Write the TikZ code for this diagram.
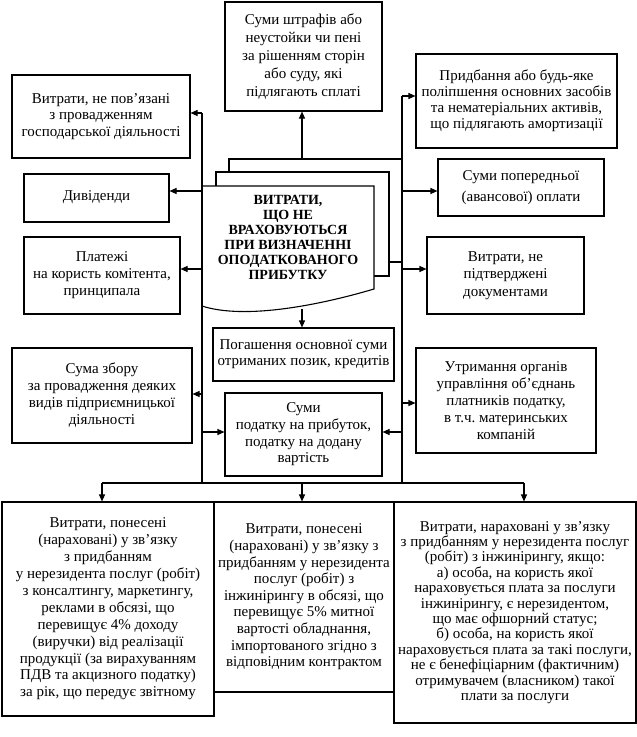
\documentclass[tikz,border=0pt]{standalone}
\usepackage{fontspec}
\setmainfont{Liberation Serif}
\usetikzlibrary{arrows.meta}
\frenchspacing
\begin{document}
\begin{tikzpicture}[x=1pt,y=-1pt,
  box/.style={draw, line width=1.1pt, align=center, inner sep=0pt, fill=white},
  arr/.style={line width=1.1pt, -{Triangle[length=7pt,width=6pt]}},
  ln/.style={line width=1.1pt},
  fs/.style={font=\fontsize{15}{#1}\selectfont}]
\fill[white] (0,0) rectangle (637,737);
\useasboundingbox (0,0) rectangle (637,737);

% coordinates of the bus lines
\coordinate (Lt) at (202,113);
\coordinate (Lb) at (202,483);
\coordinate (Rt) at (402,96);
\coordinate (Rb) at (402,483);
\coordinate (bL) at (102,483);
\coordinate (bM) at (302,483);
\coordinate (bR) at (524,483);
\coordinate (mt) at (302,159);
\coordinate (mb) at (302,309);

% boxes
\node[box, fs=18, minimum width=157pt, minimum height=109pt] (t) at (303.5,56.5)
 {Суми штрафів або\\неустойки чи пені\\за рішенням сторін\\або суду, які\\підлягають сплаті};
\node[box, fs=16.5, minimum width=178pt, minimum height=83pt] (l1) at (101,116.5)
 {Витрати, не пов’язані\\з провадженням\\господарської діяльності};
\node[box, fs=16, minimum width=201pt, minimum height=94pt] (r1) at (516.5,101)
 {Придбання або будь-яке\\поліпшення основних засобів\\та нематеріальних активів,\\що підлягають амортизації};
\node[box, fs=17, minimum width=145pt, minimum height=48pt] (l2) at (96.5,198)
 {\raisebox{4pt}{Дивіденди}};
\node[box, fs=21, minimum width=166pt, minimum height=57pt] (r2) at (521,187.5)
 {Суми попередньої\\(авансової) оплати};
\node[box, fs=17, minimum width=156pt, minimum height=77pt] (l3) at (102,275.5)
 {Платежі\\на користь комітента,\\принципала};
\node[box, fs=17.5, minimum width=157pt, minimum height=77pt] (r3) at (505.5,275.5)
 {Витрати, не\\підтверджені\\документами};
\node[box, fs=16, minimum width=181pt, minimum height=53pt] (p) at (303.5,354.5)
 {Погашення основної суми\\отриманих позик, кредитів};
\node[box, fs=17, minimum width=180pt, minimum height=95pt] (l4) at (102,395.5)
 {Сума збору\\за провадження деяких\\видів підприємницької\\діяльності};
\node[box, fs=17, minimum width=180pt, minimum height=105pt] (r4) at (506,400.5)
 {Утримання органів\\управління об’єднань\\платників податку,\\в т.ч. материнських\\компаній};
\node[box, fs=16.7, minimum width=157pt, minimum height=83pt] (s) at (303.5,434.5)
 {Суми\\податку на прибуток,\\податку на додану\\вартість};
\node[box, fs=16.9, minimum width=212pt, minimum height=214pt] (b1) at (108,609)
 {Витрати, понесені\\(нараховані) у зв'язку\\з придбанням\\у нерезидента послуг (робіт)\\з консалтингу, маркетингу,\\реклами в обсязі, що\\перевищує 4\% доходу\\(виручки) від реалізації\\продукції (за вирахуванням\\ПДВ та акцизного податку)\\за рік, що передує звітному};
\node[box, fs=16.6, minimum width=180pt, minimum height=190pt] (b2) at (304,597)
 {Витрати, понесені\\(нараховані) у зв'язку з\\придбанням у нерезидента\\послуг (робіт) з\\інжинірингу в обсязі, що\\перевищує 5\% митної\\вартості обладнання,\\імпортованого згідно з\\відповідним контрактом};
\node[box, fs=15.4, minimum width=242pt, minimum height=221pt] (b3) at (515,612.5)
 {Витрати, нараховані у зв'язку\\з придбанням у нерезидента послуг\\(робіт) з інжинірингу, якщо:\\а) особа, на користь якої\\нараховується плата за послуги\\інжинірингу, є нерезидентом,\\що має офшорний статус;\\б) особа, на користь якої\\нараховується плата за такі послуги,\\не є бенефіціарним (фактичним)\\отримувачем (власником) такої\\плати за послуги};

% main stacked document
\draw[ln, fill=white] (229,159) rectangle (402,262);
\draw[ln, fill=white] (216,172) rectangle (389,276);
\draw[ln, fill=white] (374,289) -- (374,186) -- (202,186) -- (202,306)
  .. controls (245,320) and (320,305) .. (374,289) -- cycle;
\node[align=center, inner sep=0pt, font=\bfseries\fontsize{14}{15}\selectfont] (m) at (288,237)
 {ВИТРАТИ,\\ЩО НЕ\\ВРАХОВУЮТЬСЯ\\ПРИ ВИЗНАЧЕННІ\\ОПОДАТКОВАНОГО\\ПРИБУТКУ};

% trunk lines
\draw[ln] (Lt) -- (Lb);
\draw[ln] (Rt) -- (Rb);
\draw[ln] (bL) -- (bR);

% arrows
\draw[arr] (mt) -- (mt |- t.south);
\draw[arr] (mb) -- (mb |- p.north);
\draw[arr] (Lt) -- (Lt -| l1.east);
\draw[arr] (Rt) -- (Rt -| r1.west);
\draw[arr] (Lt |- 0,191) -- (l2.east |- 0,191);
\draw[arr] (Rt |- 0,191) -- (r2.west |- 0,191);
\draw[arr] (Lt |- 0,269) -- (l3.east |- 0,269);
\draw[arr] (Rt |- 0,269) -- (r3.west |- 0,269);
\draw[arr] (Lt |- 0,394) -- (l4.east |- 0,394);
\draw[arr] (Rt |- 0,403) -- (r4.west |- 0,403);
\draw[arr] (Lt |- 0,432) -- (s.west |- 0,432);
\draw[arr] (Rt |- 0,432) -- (s.east |- 0,432);
\draw[arr] (bL) -- (bL |- b1.north);
\draw[arr] (bM) -- (bM |- b2.north);
\draw[arr] (bR) -- (bR |- b3.north);
\end{tikzpicture}
\end{document}
